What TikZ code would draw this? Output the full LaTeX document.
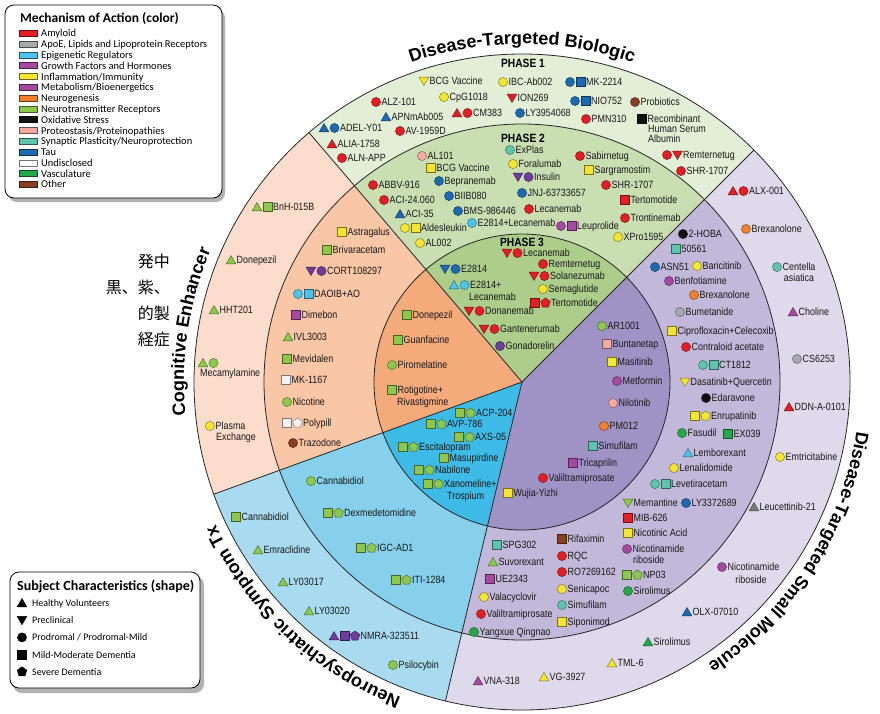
\documentclass[tikz,border=0pt]{standalone}
\usepackage{fontspec}
\usetikzlibrary{decorations.text,calc}
\setmainfont{Liberation Sans}
\newfontfamily\labfont[FakeStretch=0.85]{Liberation Sans}
\newfontfamily\ttlfont{Liberation Sans}
\newfontfamily\legfont{Carlito}
\newfontfamily\cjkfont{Noto Sans CJK JP}
\newcommand\lab{\labfont\fontsize{10.5}{11}\selectfont}
\newcommand\ttl{\ttlfont\bfseries\fontsize{18}{20}\selectfont}
\definecolor{amy}{HTML}{E31E24}
\definecolor{apoe}{HTML}{A7A9AC}
\definecolor{epi}{HTML}{4DC4EC}
\definecolor{grw}{HTML}{6E3C9B}
\definecolor{infl}{HTML}{F3E531}
\definecolor{met}{HTML}{A54AA0}
\definecolor{neu}{HTML}{F07F2F}
\definecolor{ntr}{HTML}{8CC84B}
\definecolor{oxi}{HTML}{111111}
\definecolor{prot}{HTML}{F5A9A0}
\definecolor{syn}{HTML}{5EC4AE}
\definecolor{tau}{HTML}{1D6AB3}
\definecolor{und}{HTML}{F2F2F2}
\definecolor{vas}{HTML}{26A84A}
\definecolor{oth}{HTML}{8B3F22}
\definecolor{gryb}{HTML}{7A7A7A}
\definecolor{gA}{HTML}{E3EED6}\definecolor{gB}{HTML}{C9DFB2}\definecolor{gC}{HTML}{ADCD8B}
\definecolor{oA}{HTML}{FCDDCB}\definecolor{oB}{HTML}{F9C6A6}\definecolor{oC}{HTML}{F5AA7C}
\definecolor{bA}{HTML}{A8DBEF}\definecolor{bB}{HTML}{86D0EB}\definecolor{bC}{HTML}{3DBAE5}
\definecolor{pA}{HTML}{DFDAEB}\definecolor{pB}{HTML}{C2B8DA}\definecolor{pC}{HTML}{9F92C5}
\tikzset{
  mks/.style={line width=0.4pt},
  lab/.style={anchor=base west,inner sep=0pt,font=\lab,text=black!90},
  labc/.style={anchor=base,inner sep=0pt,font=\lab,text=black!90},
  phase/.style={inner sep=0pt,font=\labfont\bfseries\fontsize{12}{12}\selectfont},
  ring/.style={line width=0.8pt,draw=black!85},
  pics/mk/.style 2 args={code={%
    \ifcase#1\relax\or
      \filldraw[mks,fill=#2,draw=#2!50!black] (-4.9,-3.9)--(4.9,-3.9)--(0,4.5)--cycle;
    \or
      \filldraw[mks,fill=#2,draw=#2!50!black] (-4.9,3.9)--(4.9,3.9)--(0,-4.5)--cycle;
    \or
      \filldraw[mks,fill=#2,draw=#2!50!black] (0,0) circle[radius=4.6pt];
    \or
      \filldraw[mks,fill=#2,draw=#2!50!black] (-4.4,-4.4) rectangle (4.4,4.4);
    \or
      \filldraw[mks,fill=#2,draw=#2!50!black] (90:5.1pt)--(162:5.1pt)--(234:5.1pt)--(306:5.1pt)--(18:5.1pt)--cycle;
    \fi}}
}
\newcounter{ent}
\newcommand\E[4]{%
  \foreach \s/\c [count=\n] in {#3}{\pic at ({#1+(\n-1)*10.5},{-#2}) {mk={\s}{\c}}; \xdef\nm{\n}}%
  \stepcounter{ent}%
  \node[lab] (e\theent) at ({#1+(\nm-1)*10.5+5.5},{-#2-3.8}) {#4};}
\newcommand\M[3]{%
  \foreach \s/\c [count=\n] in {#3}{\pic at ({#1+(\n-1)*10.5},{-#2}) {mk={\s}{\c}};}}
\newcommand\T[3]{\stepcounter{ent}\node[lab] (e\theent) at (#1,{-#2-3.8}) {#3};}
\newcommand\TC[3]{\stepcounter{ent}\node[labc] (e\theent) at (#1,{-#2-3.8}) {#3};}
\newcommand\sector[4]{\fill[#4] (C) -- ([shift={(#1:#3pt)}]C) arc[start angle=#1, end angle=#2, radius=#3pt] -- cycle;}
\begin{document}
\begin{tikzpicture}[x=1pt,y=1pt]
\fill[white] (0,0) rectangle (880,-713);
\useasboundingbox (0,0) rectangle (880,-713);
\coordinate (C) at (522,-382);
% sectors
\sector{45}{130.5}{328}{gA}\sector{45}{130.5}{258}{gB}\sector{45}{130.5}{148}{gC}
\sector{130.5}{200}{328}{oA}\sector{130.5}{200}{258}{oB}\sector{130.5}{200}{148}{oC}
\sector{200}{256.5}{328}{bA}\sector{200}{256.5}{258}{bB}\sector{200}{256.5}{148}{bC}
\sector{256.5}{405}{328}{pA}\sector{256.5}{405}{258}{pB}\sector{256.5}{405}{148}{pC}
\draw[ring] (C) circle[radius=328pt] (C) circle[radius=258pt] (C) circle[radius=148pt];
\foreach \a in {45,130.5,200,256.5}{\draw[ring] (C) -- ([shift={(\a:328pt)}]C);}
% titles
\path[decorate,decoration={text along path,text align=center,text={|\ttl|Disease-Targeted Biologic}}]
  ([shift={(150:338pt)}]C) arc[start angle=150,end angle=30,radius=338pt];
\path[decorate,decoration={text along path,text align=center,text={|\ttl|Disease-Targeted Small Molecule}}]
  ([shift={(10:338pt)}]C) arc[start angle=10,end angle=-75,radius=338pt];
\path[decorate,decoration={text along path,text align=center,text={|\ttl|Neuropsychiatric Symptom Tx}}]
  ([shift={(262:338pt)}]C) arc[start angle=262,end angle=192,radius=338pt];
\path[decorate,decoration={text along path,text align=center,text={|\ttl|Cognitive Enhancer}}]
  ([shift={(196:338pt)}]C) arc[start angle=196,end angle=146.8,radius=338pt];
% phase labels
\node[phase] (p1) at (523,-63) {PHASE 1};
\node[phase] (p2) at (523,-138) {PHASE 2};
\node[phase] (p3) at (522,-242) {PHASE 3};
% ---- green phase 1
\E{424}{81}{2/infl}{BCG Vaccine}
\E{503}{82}{3/infl}{IBC-Ab002}
\E{570}{82}{3/tau,4/tau}{MK-2214}
\E{376}{102}{3/amy}{ALZ-101}
\E{444}{97}{3/infl}{CpG1018}
\E{512}{98}{2/amy}{ION269}
\E{575}{101}{3/tau,4/tau}{NIO752}
\E{635}{102}{3/oth}{Probiotics}
\E{386}{117}{1/tau}{APNmAb005}
\E{457}{113}{1/amy,3/amy}{CM383}
\E{520}{113}{3/tau}{LY3954068}
\E{586}{119}{3/amy}{PMN310}
\E{642}{119}{4/oxi}{Recombinant}
\T{648}{129}{Human Serum}
\T{648}{139}{Albumin}
\E{324}{128}{1/tau,3/tau}{ADEL-Y01}
\E{400}{131}{3/amy}{AV-1959D}
\E{332}{144}{1/amy}{ALIA-1758}
\E{342}{158}{3/amy}{ALN-APP}
\E{667}{155}{3/amy,2/amy}{Remternetug}
\E{681}{171}{3/amy}{SHR-1707}
% ---- green phase 2
\E{422}{156}{3/prot}{AL101}
\E{510}{150}{3/syn}{ExPlas}
\E{580}{156}{3/amy}{Sabirnetug}
\E{431}{168}{4/infl}{BCG Vaccine}
\E{513}{164}{3/infl}{Foralumab}
\E{589}{170}{4/infl}{Sargramostim}
\E{518}{177}{2/grw,3/grw}{Insulin}
\E{373}{185}{3/amy}{ABBV-916}
\E{439}{181}{3/tau}{Bepranemab}
\E{606}{185}{3/amy}{SHR-1707}
\E{384}{200}{3/amy}{ACI-24.060}
\E{449}{196}{3/tau}{BIIB080}
\E{522}{193}{3/tau}{JNJ-63733657}
\E{625}{200}{4/amy}{Tertomotide}
\E{400}{214}{1/tau}{ACI-35}
\E{458}{211}{3/tau}{BMS-986446}
\E{529}{209}{3/amy}{Lecanemab}
\E{625}{218}{3/amy}{Trontinemab}
\E{405}{228}{3/infl,4/infl}{Aldesleukin}
\E{472}{223}{3/epi}{E2814+Lecanemab}
\E{561}{226}{3/met,4/met}{Leuprolide}
\E{420}{243}{3/infl}{AL002}
\E{618}{237}{3/infl}{XPro1595}
% ---- green phase 3
\E{507}{253}{2/amy,3/amy}{Lecanemab}
\E{543}{264}{3/amy}{Remternetug}
\E{445}{269}{2/tau,3/tau}{E2814}
\E{534}{276}{2/amy,3/amy}{Solanezumab}
\E{454}{285}{1/epi,3/epi}{E2814+}
\T{469}{297}{Lecanemab}
\E{543}{289}{3/infl}{Semaglutide}
\E{535}{303}{4/amy,5/amy}{Tertomotide}
\E{469}{311}{2/amy,3/amy}{Donanemab}
\E{484}{329}{2/amy,3/amy}{Gantenerumab}
\E{500}{346}{3/grw}{Gonadorelin}
% ---- orange phase 3
\E{407}{315}{4/ntr}{Donepezil}
\E{398}{340}{4/ntr}{Guanfacine}
\E{392}{365}{3/ntr}{Piromelatine}
\E{392}{390}{4/ntr}{Rotigotine+}
\T{397}{402}{Rivastigmine}
% ---- blue phase 3
\E{460}{413}{4/ntr,5/ntr}{ACP-204}
\E{431}{424}{4/ntr,5/ntr}{AVP-786}
\E{459}{437}{4/ntr,5/ntr}{AXS-05}
\E{403}{447}{4/ntr,5/ntr}{Escitalopram}
\E{444}{458}{4/ntr}{Masupirdine}
\E{419}{470}{4/ntr,5/ntr}{Nabilone}
\E{428}{484}{4/ntr,5/ntr}{Xanomeline+}
\T{447}{496}{Trospium}
% ---- purple phase 3
\E{602}{326}{3/ntr}{AR1001}
\E{607}{344}{4/prot}{Buntanetap}
\E{612}{362}{4/infl}{Masitinib}
\E{617}{381}{3/met}{Metformin}
\E{613}{403}{3/prot}{Nilotinib}
\E{604}{426}{3/neu}{PM012}
\E{593}{446}{4/syn}{Simufilam}
\E{573}{463}{4/met}{Tricaprilin}
\E{543}{478}{3/amy}{Valiltramiprosate}
\E{508}{493}{4/infl}{Wujia-Yizhi}
% ---- purple phase 2
\E{683}{234}{3/oxi}{2-HOBA}
\E{676}{249}{4/syn}{50561}
\E{655}{267}{3/tau}{ASN51}
\E{697}{266}{3/infl}{Baricitinib}
\E{669}{281}{3/met}{Benfotiamine}
\E{694}{295}{3/neu}{Brexanolone}
\E{680}{312}{3/apoe}{Bumetanide}
\E{672}{331}{4/infl}{Ciprofloxacin+Celecoxib}
\E{686}{347}{3/amy}{Contraloid acetate}
\E{703}{365}{3/syn,4/syn}{CT1812}
\E{685}{382}{2/infl}{Dasatinib+Quercetin}
\E{706}{398}{3/oxi}{Edaravone}
\E{695}{416}{4/infl,5/infl}{Enrupatinib}
\E{682}{433}{3/vas}{Fasudil}
\E{728}{434}{4/vas}{EX039}
\E{688}{453}{1/epi}{Lemborexant}
\E{674}{468}{3/infl}{Lenalidomide}
\E{655}{484}{3/syn,4/syn}{Levetiracetam}
\E{628}{503}{2/ntr}{Memantine}
\E{686}{503}{3/tau}{LY3372689}
\E{628}{518}{4/amy}{MIB-626}
\E{628}{533}{4/infl}{Nicotinic Acid}
\E{627}{549}{3/met}{Nicotinamide}
\T{633}{560}{riboside}
\E{627}{575}{4/ntr,5/ntr}{NP03}
\E{628}{591}{3/vas}{Sirolimus}
\E{562}{539}{4/oth}{Rifaximin}
\E{562}{556}{3/amy}{RQC}
\E{562}{572}{3/amy}{RO7269162}
\E{562}{589}{3/infl}{Senicapoc}
\E{562}{605}{3/syn}{Simufilam}
\E{562}{622}{4/infl}{Siponimod}
\E{497}{545}{4/syn}{SPG302}
\E{493}{562}{1/ntr}{Suvorexant}
\E{490}{579}{4/met}{UE2343}
\E{484}{597}{3/infl}{Valacyclovir}
\E{481}{614}{3/amy}{Valiltramiprosate}
\E{474}{632}{3/vas}{Yangxue Qingnao}
% ---- purple outer
\E{733}{191}{1/amy,3/amy}{ALX-001}
\E{746}{229}{3/neu}{Brexanolone}
\E{777}{267}{3/syn}{Centella}
\TC{799}{278}{asiatica}
\E{793}{312}{1/met}{Choline}
\E{797}{359}{3/apoe}{CS6253}
\E{789}{407}{1/amy}{DDN-A-0101}
\E{780}{457}{3/infl}{Emtricitabine}
\E{754}{507}{1/gryb}{Leucettinib-21}
\E{722}{567}{3/met}{Nicotinamide}
\TC{751}{580}{riboside}
\E{687}{612}{1/tau}{OLX-07010}
\E{648}{642}{1/vas}{Sirolimus}
\E{612}{663}{1/infl}{TML-6}
\E{544}{677}{1/infl}{VG-3927}
\E{478}{681}{1/met}{VNA-318}
% ---- blue phase 2 / phase 1
\E{311}{481}{3/ntr}{Cannabidiol}
\E{328}{513}{4/ntr,5/ntr}{Dexmedetomidine}
\E{361}{548}{4/ntr,5/ntr}{IGC-AD1}
\E{396}{580}{4/ntr,5/ntr}{ITI-1284}
\E{236}{517}{4/ntr}{Cannabidiol}
\E{258}{550}{1/ntr}{Emraclidine}
\E{283}{582}{1/ntr}{LY03017}
\E{309}{611}{1/ntr}{LY03020}
\E{334}{636}{1/grw,4/grw,5/grw}{NMRA-323511}
\E{393}{665}{3/ntr}{Psilocybin}
% ---- orange outer / phase 2
\E{257}{207}{1/ntr,4/ntr}{BnH-015B}
\E{231}{260}{1/ntr}{Donepezil}
\E{214}{310}{1/ntr}{HHT201}
\M{203}{363}{1/ntr,3/ntr}
\T{200}{373}{Mecamylamine}
\E{210}{426}{3/infl}{Plasma}
\T{216}{437}{Exchange}
\E{342}{232}{4/infl}{Astragalus}
\E{327}{250}{4/ntr}{Brivaracetam}
\E{311}{271}{2/grw,3/grw}{CORT108297}
\E{298}{294}{3/epi,4/epi}{DAOIB+AO}
\E{296}{315}{4/met}{Dimebon}
\E{288}{337}{1/ntr}{IVL3003}
\E{287}{359}{4/ntr}{Mevidalen}
\E{286}{380}{4/und}{MK-1167}
\E{287}{402}{3/ntr}{Nicotine}
\E{287}{423}{4/und,5/und}{Polypill}
\E{293}{443}{3/oth}{Trazodone}
% ---- stray Japanese text
\node[anchor=east,align=right,inner sep=0pt,font=\cjkfont\fontsize{16}{26}\selectfont] (jp) at (170,-300) {発中\\黒、紫、\\的製\\経症};
% ---- legend 1
\fill[black!30,rounded corners=9pt] (8,-9) rectangle (225,-202);
\draw[rounded corners=9pt,fill=white,line width=0.8pt] (5,-5) rectangle (222,-198);
\node[anchor=base west,inner sep=0pt,font=\legfont\bfseries\fontsize{13.5}{14}\selectfont] (lt1) at (20,-22.5) {Mechanism of Action (color)};
\foreach \col/\txt [count=\i from 0] in {amy/{Amyloid},apoe/{ApoE, Lipids and Lipoprotein Receptors},epi/{Epigenetic Regulators},met/{Growth Factors and Hormones},infl/{Inflammation/Immunity},met/{Metabolism/Bioenergetics},neu/{Neurogenesis},ntr/{Neurotransmitter Receptors},oxi/{Oxidative Stress},prot/{Proteostasis/Proteinopathies},syn/{Synaptic Plasticity/Neuroprotection},tau/{Tau},white/{Undisclosed},vas/{Vasculature},oth/{Other}}{
  \filldraw[fill=\col,draw=\col!45!black,line width=0.5pt] (19,{-33.3-10.79*\i-3}) rectangle (37,{-33.3-10.79*\i+3});
  \node[anchor=base west,inner sep=0pt,font=\legfont\fontsize{10.5}{11}\selectfont] (lg\i) at (41,{-33.3-10.79*\i-3.6}) {\txt};
}
% ---- legend 2
\fill[black!30,rounded corners=9pt] (13,-576) rectangle (204,-693);
\draw[rounded corners=9pt,fill=white,line width=0.8pt] (10,-572) rectangle (200,-688);
\node[anchor=base west,inner sep=0pt,font=\legfont\bfseries\fontsize{14}{15}\selectfont] (lt2) at (17,-590) {Subject Characteristics (shape)};
\foreach \sh/\txt [count=\i from 0] in {1/{Healthy Volunteers},2/{Preclinical},3/{Prodromal / Prodromal-Mild},4/{Mild-Moderate Dementia},5/{Severe Dementia}}{
  \pic at (22,{-603-17.2*\i}) {mk={\sh}{black}};
  \node[anchor=base west,inner sep=0pt,font=\legfont\fontsize{10}{11}\selectfont] (ls\i) at (32,{-603-17.2*\i-3.4}) {\txt};
}
\end{tikzpicture}
\end{document}
